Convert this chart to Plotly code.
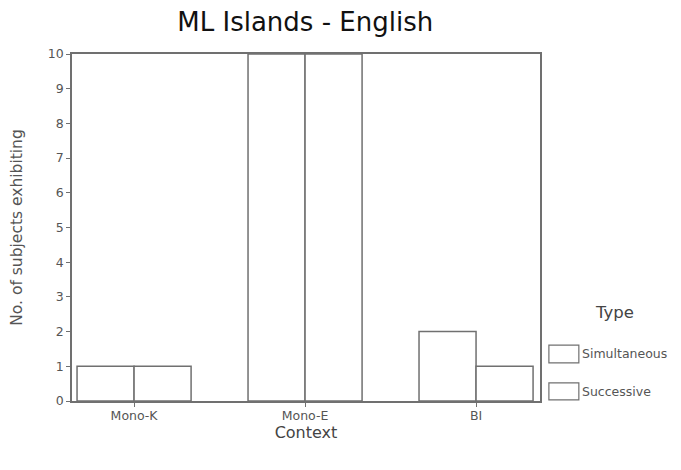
import plotly.graph_objects as go

contexts = ["Mono-K", "Mono-E", "BI"]
simultaneous = [1, 10, 2]
successive = [1, 10, 1]
series_names = ["Simultaneous", "Successive"]
legend_title = "Type"
y_ticks = list(range(0, 11))

line_col = "#707070"
txt_col = "#555555"
fam = "DejaVu Sans, Arial, sans-serif"

fig = go.Figure()
for name, vals in zip(series_names, [simultaneous, successive]):
    fig.add_trace(go.Bar(
        x=contexts, y=vals, name=name, showlegend=False,
        marker=dict(color="white", line=dict(color=line_col, width=1.5)),
    ))

# hand-drawn legend (large boxes, as in the reference)
fig.add_annotation(text=legend_title, xref="paper", yref="paper", x=1.160, y=0.254,
                   xanchor="center", yanchor="middle", showarrow=False,
                   font=dict(size=16.5, color="#444444", family=fam))
box_y = [(0.110, 0.161), (0.003, 0.052)]
for name, (y0, y1) in zip(series_names, box_y):
    fig.add_shape(type="rect", xref="paper", yref="paper", x0=1.019, x1=1.083,
                  y0=y0, y1=y1, line=dict(color=line_col, width=1.2), fillcolor="white")
    fig.add_annotation(text=name, xref="paper", yref="paper", x=1.086, y=(y0 + y1) / 2,
                       xanchor="left", yanchor="middle", showarrow=False,
                       font=dict(size=12.5, color=txt_col, family=fam))

fig.update_layout(
    width=665, height=454,
    margin=dict(l=64, r=133, t=46, b=61),
    paper_bgcolor="white", plot_bgcolor="white",
    barmode="group", bargap=0.333, bargroupgap=0,
    font=dict(family=fam, color=txt_col, size=12),
    title=dict(text="ML Islands - English", x=0.447, xanchor="center", y=0.969,
               yanchor="middle", font=dict(size=26, color="#111111", family=fam)),
    xaxis=dict(
        range=[-0.363, 2.374], showline=True, linecolor=line_col, linewidth=1.5,
        mirror=True, ticks="outside", ticklen=4, tickcolor=line_col,
        title=dict(text="Context", font=dict(size=16, color="#444444"), standoff=3),
        showgrid=False, tickfont=dict(size=12.5, color=txt_col), automargin=False,
        ticklabelstandoff=-2,
    ),
    yaxis=dict(
        range=[0, 10], showline=True, linecolor=line_col, linewidth=1.5,
        mirror=True, ticks="outside", ticklen=4, tickcolor=line_col,
        tickvals=y_ticks, showgrid=False, zeroline=False,
        title=dict(text="No. of subjects exhibiting", font=dict(size=15.5, color="#555555"), standoff=22),
        tickfont=dict(size=12.5, color=txt_col), automargin=False,
    ),
)

fig.write_html("out.html")
